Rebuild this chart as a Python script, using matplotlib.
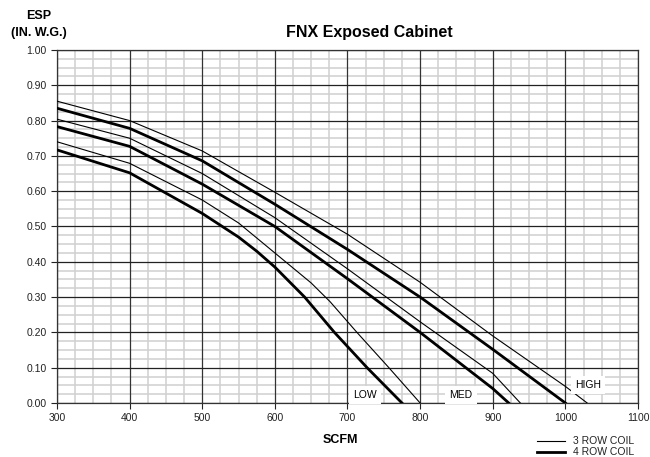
import matplotlib
matplotlib.use("Agg")
import matplotlib.pyplot as plt
import numpy as np

plt.rcParams['font.family'] = ['Liberation Sans', 'DejaVu Sans']

# airflow (SCFM) vs external static pressure (in. w.g.)
high_3row_x = [300, 400, 500, 600, 700, 800, 900, 1000, 1030]
high_3row_y = [0.855, 0.800, 0.714, 0.597, 0.478, 0.342, 0.190, 0.047, 0.0]
high_4row_x = [300, 400, 500, 600, 700, 800, 900, 1000]
high_4row_y = [0.835, 0.778, 0.686, 0.563, 0.435, 0.300, 0.152, 0.0]

med_3row_x = [300, 400, 500, 600, 700, 800, 900, 938]
med_3row_y = [0.804, 0.750, 0.650, 0.525, 0.380, 0.230, 0.084, 0.0]
med_4row_x = [300, 400, 500, 600, 700, 800, 900, 922]
med_4row_y = [0.783, 0.727, 0.620, 0.500, 0.352, 0.200, 0.041, 0.0]

low_3row_x = [300, 400, 500, 550, 600, 650, 676, 713, 757, 800]
low_3row_y = [0.740, 0.679, 0.575, 0.510, 0.425, 0.340, 0.287, 0.200, 0.100, 0.0]
low_4row_x = [300, 400, 500, 550, 575, 600, 641, 682, 727, 775]
low_4row_y = [0.717, 0.652, 0.537, 0.470, 0.430, 0.385, 0.300, 0.200, 0.100, 0.0]

x_ticks = [300, 400, 500, 600, 700, 800, 900, 1000, 1100]
y_ticks = [0.0, 0.1, 0.2, 0.3, 0.4, 0.5, 0.6, 0.7, 0.8, 0.9, 1.0]

fig = plt.figure(figsize=(6.5, 4.57), dpi=100)
ax = fig.add_axes([0.0877, 0.1182, 0.8938, 0.7724])

ax.set_xlim(300, 1100)
ax.set_ylim(0, 1.0)
ax.set_xticks(x_ticks)
ax.set_yticks(y_ticks)
ax.set_xticks(np.arange(300, 1101, 25), minor=True)
ax.set_yticks(np.arange(0, 1.001, 0.025), minor=True)
ax.set_yticklabels(["%.2f" % v for v in y_ticks])
ax.grid(which='minor', color='#d0d0d0', lw=1.1)
ax.set_axisbelow(True)
# major grid drawn on top of the light one
for xv in x_ticks:
    ax.axvline(xv, color='#333333', lw=0.9, zorder=1)
for yv in y_ticks:
    ax.axhline(yv, color='#222222', lw=0.9, zorder=1)
ax.tick_params(which='minor', length=0)
ax.tick_params(which='major', length=4, width=0.8, labelsize=7.5, colors='#222222')
for s in ax.spines.values():
    s.set_color('#333333')
    s.set_linewidth(0.9)

thin = dict(color='black', lw=0.8, zorder=3)
thick = dict(color='black', lw=2.0, zorder=3)
ax.plot(high_3row_x, high_3row_y, **thin)
ax.plot(high_4row_x, high_4row_y, **thick)
ax.plot(med_3row_x, med_3row_y, **thin)
ax.plot(med_4row_x, med_4row_y, **thick)
ax.plot(low_3row_x, low_3row_y, **thin)
ax.plot(low_4row_x, low_4row_y, **thick)

box = dict(facecolor='white', edgecolor='none', pad=3)
ax.text(724, 0.022, "LOW", fontsize=7.5, ha='center', va='center', bbox=box, zorder=5, clip_on=False)
ax.text(856, 0.022, "MED", fontsize=7.5, ha='center', va='center', bbox=box, zorder=5, clip_on=False)
ax.text(1031, 0.051, "HIGH", fontsize=7.5, ha='center', va='center', bbox=box, zorder=5)

fig.text(0.568, 0.928, "FNX Exposed Cabinet", fontsize=11.5, fontweight='bold', ha='center', va='center')
fig.text(0.06, 0.966, "ESP", fontsize=9, fontweight='bold', ha='center', va='center')
fig.text(0.06, 0.927, "(IN. W.G.)", fontsize=9, fontweight='bold', ha='center', va='center')
fig.text(0.523, 0.037, "SCFM", fontsize=9, fontweight='bold', ha='center', va='center')

# legend
fig.add_artist(plt.Line2D([0.826, 0.869], [0.034, 0.034], color='black', lw=0.8))
fig.add_artist(plt.Line2D([0.826, 0.869], [0.012, 0.012], color='black', lw=2.0))
fig.text(0.881, 0.034, "3 ROW COIL", fontsize=7.5, va='center', color='#222222')
fig.text(0.881, 0.012, "4 ROW COIL", fontsize=7.5, va='center', color='#222222')

fig.savefig("out.png", dpi=100)
